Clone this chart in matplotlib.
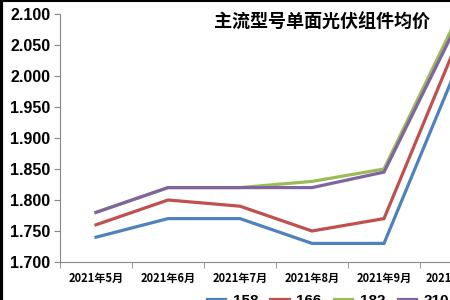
import matplotlib.pyplot as plt
from matplotlib.lines import Line2D

plt.rcParams['font.family'] = ['Noto Sans CJK SC', 'DejaVu Sans']

months = ['2021年5月', '2021年6月', '2021年7月', '2021年8月', '2021年9月', '2021年10月']
labels = ['158', '166', '182', '210']
p158 = [1.740, 1.770, 1.770, 1.730, 1.730, 2.010]
p166 = [1.760, 1.800, 1.790, 1.750, 1.770, 2.050]
p182 = [1.780, 1.820, 1.820, 1.830, 1.850, 2.090]
p210 = [1.780, 1.820, 1.820, 1.820, 1.845, 2.080]
colors = ['#4F81BD', '#C0504D', '#9BBB59', '#8064A2']
yticks = [1.70, 1.75, 1.80, 1.85, 1.90, 1.95, 2.00, 2.05, 2.10]

fig = plt.figure(figsize=(4.5, 3), dpi=100)
# axes runs past the right edge, the reference is a crop
ax = fig.add_axes([60 / 450, 38 / 300, 432 / 450, 248 / 300])

x = range(len(months))
for series, c, lab in zip([p158, p166, p182, p210], colors, labels):
    ax.plot(x, series, color=c, lw=2.3, label=lab, solid_joinstyle='miter')

ax.set_xlim(-0.5, len(months) - 0.5)
ax.set_ylim(1.7, 2.1)
ax.set_yticks(yticks)
ax.set_yticklabels([f'{v:.3f}' for v in yticks], family='Liberation Sans',
                   fontsize=11.5, fontweight='bold')
ax.set_xticks(list(x))
ax.set_xticklabels(months, fontsize=8, fontweight='bold')
ax.set_xticks([i - 0.5 for i in range(len(months) + 1)], minor=True)
ax.tick_params(axis='x', which='major', length=0, pad=7)
ax.tick_params(axis='x', which='minor', length=4, color='#888888')
ax.tick_params(axis='y', length=4, color='#888888', pad=3)
for s in ['top', 'right']:
    ax.spines[s].set_visible(False)
ax.spines['left'].set_color('#888888')
ax.spines['bottom'].set_color('#888888')

fig.text(322 / 450, 1 - 22 / 300, '主流型号单面光伏组件均价', ha='center', va='center',
         fontsize=13, fontweight='bold')

handles = [Line2D([], [], color=c, lw=2.3) for c in colors]
fig.legend(handles, labels, loc='upper left', bbox_to_anchor=(196 / 450, 17 / 300),
           ncol=4, frameon=False, prop={'family': 'Liberation Sans', 'size': 11, 'weight': 'bold'},
           handlelength=1.2, columnspacing=0.8, handletextpad=0.5, borderpad=0.2)

# dark frame on the left and top edges
fig.add_artist(Line2D([0.003, 0.003], [0, 1], color='black', lw=3, transform=fig.transFigure))
fig.add_artist(Line2D([0, 1], [0.997, 0.997], color='black', lw=1.5, transform=fig.transFigure))

fig.savefig('out.png', dpi=100)
